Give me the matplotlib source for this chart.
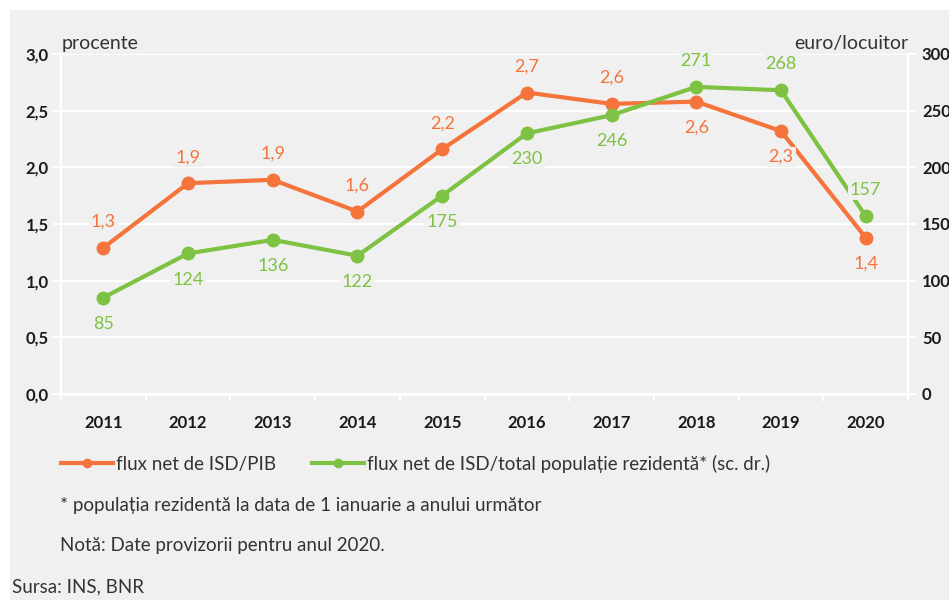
import matplotlib.pyplot as plt
import matplotlib.patches as patches

plt.rcParams['font.family'] = ['Lato', 'DejaVu Sans']

years = ["2011", "2012", "2013", "2014", "2015", "2016", "2017", "2018", "2019", "2020"]
isd_pib = [1.29, 1.86, 1.89, 1.61, 2.16, 2.66, 2.56, 2.58, 2.32, 1.38]
isd_pib_labels = ["1,3", "1,9", "1,9", "1,6", "2,2", "2,7", "2,6", "2,6", "2,3", "1,4"]
isd_loc = [85, 124, 136, 122, 175, 230, 246, 271, 268, 157]
y_left_ticks = [0, 0.5, 1.0, 1.5, 2.0, 2.5, 3.0]
y_left_labels = ["0,0", "0,5", "1,0", "1,5", "2,0", "2,5", "3,0"]
y_right_ticks = [0, 50, 100, 150, 200, 250, 300]

ORANGE = "#f4743b"
GREEN = "#7dc242"
BG = "#f0f0f0"
TXT = "#333333"

fig = plt.figure(figsize=(9.49, 6), dpi=100, facecolor="white")
fig.patches.append(patches.Rectangle((10 / 949, 0), 1, 1 - 10 / 600, transform=fig.transFigure,
                                     facecolor=BG, edgecolor="none", zorder=-10))

ax = fig.add_axes([61 / 949, 1 - 394 / 600, 847 / 949, 340 / 600])
ax.set_facecolor(BG)
ax2 = ax.twinx()

x = list(range(len(years)))
ax.plot(x, isd_pib, color=ORANGE, lw=3, marker="o", ms=9, zorder=5, clip_on=False)
ax2.plot(x, isd_loc, color=GREEN, lw=3, marker="o", ms=9, zorder=5, clip_on=False)

ax.set_xlim(-0.5, 9.5)
ax.set_ylim(0, 3.0)
ax2.set_ylim(0, 300)
ax.set_yticks(y_left_ticks)
ax.set_yticklabels(y_left_labels)
ax2.set_yticks(y_right_ticks)
ax.set_xticks(x)
ax.set_xticklabels(years)
ax.set_xticks([i + 0.5 for i in range(-1, 10)], minor=True)

ax.grid(axis="y", color="white", lw=1.5, zorder=0)
ax.set_axisbelow(True)
for a in (ax, ax2):
    for s in a.spines.values():
        s.set_visible(False)
ax.spines["left"].set_visible(True)
ax.spines["left"].set_color("white")
ax.spines["left"].set_linewidth(1.5)
ax.spines["bottom"].set_visible(True)
ax.spines["bottom"].set_color("white")
ax.spines["bottom"].set_linewidth(2)
ax2.spines["right"].set_visible(True)
ax2.spines["right"].set_color("white")
ax2.spines["right"].set_linewidth(1.5)

ax.tick_params(axis="x", which="major", length=0, pad=15, labelsize=12, labelcolor="#1a1a1a")
ax.tick_params(axis="x", which="minor", length=5, width=1.5, color="white")
ax.tick_params(axis="y", length=6, width=1.5, color="white", labelsize=12, labelcolor="#1a1a1a", pad=3)
ax2.tick_params(axis="y", length=6, width=1.5, color="white", labelsize=12, labelcolor="#1a1a1a", pad=4)
for lbl in ax.get_xticklabels() + ax.get_yticklabels() + ax2.get_yticklabels():
    lbl.set_fontweight("bold")

box = dict(facecolor=BG, edgecolor="none", pad=1.5)
pib_pos = ["a", "a", "a", "a", "a", "a", "a", "b", "b", "b"]
for i, (v, t, p) in enumerate(zip(isd_pib, isd_pib_labels, pib_pos)):
    off = 13 if p == "a" else -13
    ax.annotate(t, (i, v), xytext=(0, off), textcoords="offset points", ha="center",
                va="bottom" if p == "a" else "top", color=ORANGE, fontsize=13, bbox=box, zorder=6)
loc_pos = ["b", "b", "b", "b", "b", "b", "b", "a", "a", "a"]
for i, (v, p) in enumerate(zip(isd_loc, loc_pos)):
    off = 13 if p == "a" else -13
    ax2.annotate(str(v), (i, v), xytext=(0, off), textcoords="offset points", ha="center",
                 va="bottom" if p == "a" else "top", color=GREEN, fontsize=13, bbox=box, zorder=6)

fig.text(62 / 949, 1 - 43 / 600, "procente", fontsize=14, color=TXT, va="center")
fig.text(908 / 949, 1 - 43 / 600, "euro/locuitor", fontsize=14, color=TXT, va="center", ha="right")

h1, = ax.plot([], [], color=ORANGE, lw=3, marker="o", ms=6)
h2, = ax.plot([], [], color=GREEN, lw=3, marker="o", ms=6)
fig.legend([h1, h2], ["flux net de ISD/PIB", "flux net de ISD/total populație rezidentă* (sc. dr.)"],
           loc="center left", bbox_to_anchor=(44 / 949, 1 - 464 / 600), ncol=2, frameon=False,
           prop={"size": 13.5}, handlelength=2.8, handletextpad=0.15, columnspacing=1.9,
           labelcolor=TXT)

fig.text(60 / 949, 1 - 505 / 600, "* populația rezidentă la data de 1 ianuarie a anului următor",
         fontsize=13.5, color=TXT, va="center")
fig.text(60 / 949, 1 - 545 / 600, "Notă: Date provizorii pentru anul 2020.",
         fontsize=13.5, color=TXT, va="center")
fig.text(12 / 949, 1 - 587 / 600, "Sursa: INS, BNR", fontsize=13.5, color=TXT, va="center")

fig.savefig("out.png", dpi=100, facecolor=fig.get_facecolor())
